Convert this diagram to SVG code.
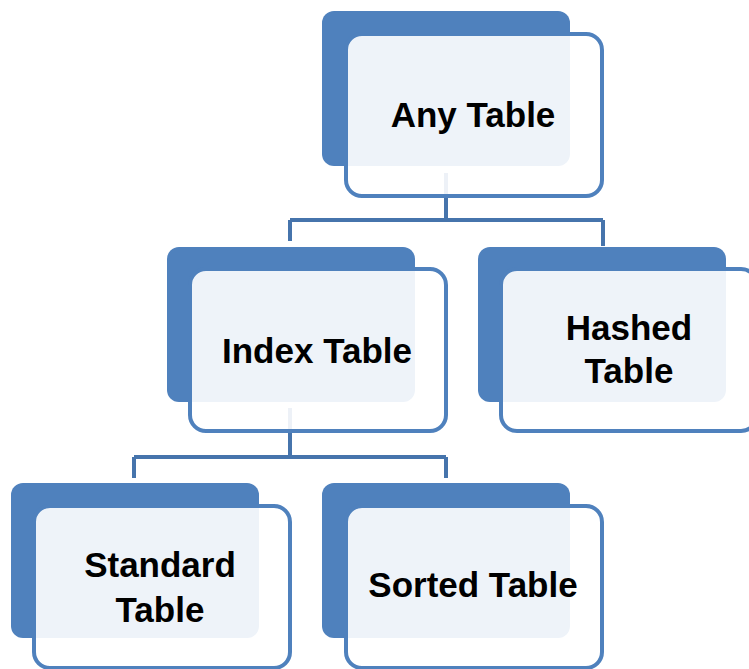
<svg xmlns="http://www.w3.org/2000/svg" width="749" height="669" viewBox="0 0 749 669">
<style>
.back{fill:#4F81BD;}
.front{fill:#FFFFFF;fill-opacity:0.9;stroke:#4F81BD;stroke-width:4;}
.conn{fill:none;stroke:#4674AC;stroke-width:4;}
.lbl{font-family:"Liberation Sans",Arial,sans-serif;font-weight:bold;font-size:35px;fill:#000;text-anchor:middle;}
</style>
<rect width="749" height="669" fill="#FFFFFF"/>
<g id="connectors">
<path class="conn" d="M446,173 V220 M290,220 H603 M290,220 V241 M603,220 V246"/>
<path class="conn" d="M290,408 V457 M134,457 H446 M134,457 V478 M446,457 V478"/>
</g>
<g id="any-table">
<rect class="back" x="322" y="11" width="248" height="155" rx="12"/>
<rect class="front" x="346" y="34" width="256" height="162" rx="16"/>
<text class="lbl" x="473" y="127">Any Table</text>
</g>
<g id="index-table">
<rect class="back" x="167" y="247" width="248" height="155" rx="12"/>
<rect class="front" x="190" y="269" width="256" height="162" rx="16"/>
<text class="lbl" x="317" y="363">Index Table</text>
</g>
<g id="hashed-table">
<rect class="back" x="478" y="247" width="248" height="155" rx="12"/>
<rect class="front" x="501" y="269" width="256" height="162" rx="16"/>
<text class="lbl" x="629" y="340">Hashed</text>
<text class="lbl" x="629" y="383">Table</text>
</g>
<g id="standard-table">
<rect class="back" x="11" y="483" width="248" height="155" rx="12"/>
<rect class="front" x="34" y="506" width="256" height="162" rx="16"/>
<text class="lbl" x="160" y="577">Standard</text>
<text class="lbl" x="160" y="622">Table</text>
</g>
<g id="sorted-table">
<rect class="back" x="322" y="483" width="248" height="155" rx="12"/>
<rect class="front" x="346" y="506" width="256" height="162" rx="16"/>
<text class="lbl" x="473" y="597">Sorted Table</text>
</g>
</svg>
